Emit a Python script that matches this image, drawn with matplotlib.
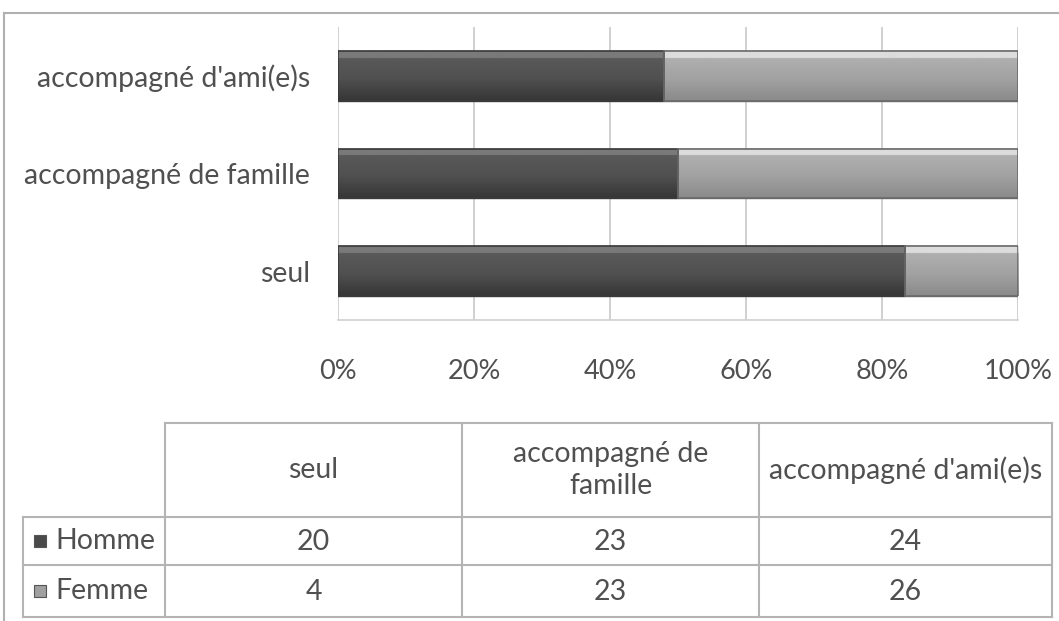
import numpy as np
import matplotlib
matplotlib.use('Agg')
import matplotlib.pyplot as plt
from matplotlib.colors import LinearSegmentedColormap

# Data
categories = ['seul', 'accompagné de famille', "accompagné d'ami(e)s"]
homme = [20, 23, 24]
femme = [4, 23, 26]
series_names = ['Homme', 'Femme']
xticks = [0, 20, 40, 60, 80, 100]

plt.rcParams['font.family'] = ['Lato', 'DejaVu Sans']
txt = '#505050'
line = '#b4b4b4'

W, H = 1059, 621
fig = plt.figure(figsize=(W / 100, H / 100), dpi=100)

# percentages
tot = np.array(homme) + np.array(femme)
h_pct = np.array(homme) / tot * 100
f_pct = np.array(femme) / tot * 100

ax = fig.add_axes([338 / W, 1 - 320 / H, 680 / W, 293 / H])
y = np.arange(len(categories))
bh = 0.51
b1 = ax.barh(y, h_pct, height=bh, color='#555555', edgecolor='#3a3a3a', lw=1, zorder=3)
b2 = ax.barh(y, f_pct, left=h_pct, height=bh, color='#a6a6a6', edgecolor='#6a6a6a', lw=1, zorder=3)

# bevel-like gradient on bars
cm_dark = LinearSegmentedColormap.from_list('d', ['#363636', '#505050', '#5a5a5a', '#7a7a7a'])
cm_light = LinearSegmentedColormap.from_list('l', ['#8a8a8a', '#a2a2a2', '#b0b0b0', '#dcdcdc'])
grad = np.linspace(0, 1, 100).reshape(-1, 1)
grad = np.where(grad > 0.86, 1.0, grad * 0.75)
for bars, cm in ((b1, cm_dark), (b2, cm_light)):
    for p in bars:
        x0, y0 = p.get_x(), p.get_y()
        im = ax.imshow(grad, cmap=cm, aspect='auto', origin='lower',
                       extent=[x0, x0 + p.get_width(), y0, y0 + p.get_height()], zorder=4)
        im.set_clip_path(p)
    for p in bars:
        ax.add_patch(plt.Rectangle((p.get_x(), p.get_y()), p.get_width(), p.get_height(),
                                   fill=False, ec=p.get_edgecolor(), lw=1.2, zorder=5))

ax.set_xlim(0, 100)
ax.set_ylim(-0.5, 2.5)
ax.set_xticks(xticks)
ax.set_xticklabels([f'{t}%' for t in xticks])
ax.set_yticks(y)
ax.set_yticklabels(categories)
ax.tick_params(axis='x', length=0, pad=28, labelsize=19.5, labelcolor=txt)
ax.tick_params(axis='y', length=0, pad=20, labelsize=20.5, labelcolor=txt)
ax.grid(axis='x', color='#c8c8c8', lw=1.2, zorder=0)
for s in ['top', 'right', 'left']:
    ax.spines[s].set_visible(False)
ax.spines['bottom'].set_color('#d0d0d0')
ax.spines['bottom'].set_linewidth(1.2)
ax.set_facecolor('none')

# overlay in pixel coords for frame and data table
ov = fig.add_axes([0, 0, 1, 1], zorder=-1)
ov.set_xlim(0, W)
ov.set_ylim(H, 0)
ov.axis('off')
ov.plot([4, W], [13, 13], color='#b0b0b0', lw=1.5)
ov.plot([4, 4], [13, H], color='#b0b0b0', lw=1.5)

ov2 = fig.add_axes([0, 0, 1, 1])
ov2.set_xlim(0, W)
ov2.set_ylim(H, 0)
ov2.axis('off')
cols = [23, 165, 462, 759, 1052]
rows = [423, 517, 565, 617]
ov2.plot([cols[1], cols[-1]], [rows[0], rows[0]], color=line, lw=1.5)
for r in rows[1:]:
    ov2.plot([cols[0], cols[-1]], [r, r], color=line, lw=1.5)
ov2.plot([cols[0], cols[0]], [rows[1], rows[-1]], color=line, lw=1.5)
for c in cols[1:]:
    ov2.plot([c, c], [rows[0], rows[-1]], color=line, lw=1.5)

head = ['seul', 'accompagné de\nfamille', "accompagné d'ami(e)s"]
for i, lab in enumerate(head):
    ov2.text((cols[i + 1] + cols[i + 2]) / 2, (rows[0] + rows[1]) / 2, lab,
             ha='center', va='center', fontsize=20.5, color=txt, linespacing=1.3)
swatch = ['#4a4a4a', '#a0a0a0']
for j, (name, vals) in enumerate(zip(series_names, [homme, femme])):
    yc = (rows[j + 1] + rows[j + 2]) / 2
    ov2.add_patch(plt.Rectangle((34, yc - 6), 12, 12, fc=swatch[j], ec='#555555', lw=0.8))
    ov2.text(55, yc, name, ha='left', va='center', fontsize=20.5, color=txt)
    for i, v in enumerate(vals):
        ov2.text((cols[i + 1] + cols[i + 2]) / 2, yc + 1, str(v),
                 ha='center', va='center', fontsize=20.5, color=txt)

fig.savefig('out.png', dpi=100, facecolor='white')
